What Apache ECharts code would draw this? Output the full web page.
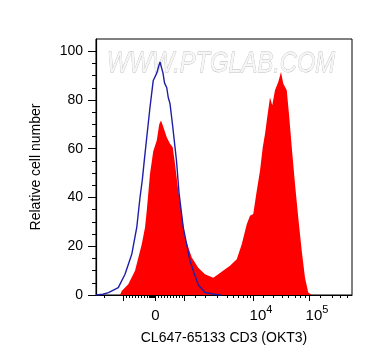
<!DOCTYPE html>
<html><head><meta charset="utf-8">
<script src="https://cdn.jsdelivr.net/npm/echarts@6/dist/echarts.min.js"></script>
<style>html,body{margin:0;padding:0;background:#fff}#c{width:372px;height:364px}</style>
</head><body><div id="c"></div>
<script>
// x values are display channels of the biexponential axis (0..1024)
const redX = [0, 96, 103, 129, 156, 183, 196, 203, 216, 229, 243, 253, 260, 269, 283, 296, 307, 316, 329, 343, 356, 383, 409, 436, 469, 489, 508, 536, 563, 583, 603, 616, 629, 643, 656, 667, 676, 685, 696, 705, 716, 729, 740, 749, 763, 773, 783, 796, 809, 823, 836, 849, 863, 1024];
const redY = [0, 0, 1.6, 4.4, 9.9, 20.8, 27.7, 34.6, 49.7, 59, 63.4, 70, 71.6, 69, 64.7, 62, 60.6, 53.8, 42.8, 33.2, 23.6, 15.4, 11.2, 8.5, 7.1, 8.5, 9.9, 12, 14.7, 20.8, 29, 32.5, 33.2, 42.8, 51, 60.6, 66, 73, 81, 77.8, 84, 87.4, 91.5, 86.7, 84, 73, 60.6, 45.5, 31.8, 18, 7.1, 1, 0, 0];
const blueX = [0, 28, 50, 89, 116, 143, 163, 176, 185, 193, 203, 216, 229, 243, 256, 263, 268, 274, 283, 289, 296, 307, 322, 332, 349, 376, 392, 410, 436, 480, 500];
const blueY = [0, 0.3, 1, 3, 8.5, 16.7, 27.7, 40, 47, 55, 64.7, 77, 88, 91, 95.6, 96, 91, 87, 85, 81, 78.5, 69, 55, 42, 27.7, 14, 9, 4, 1, 0.2, 0];

const xMajorTicks = [108, 238, 352, 628, 852];
const xMinorTicks = [32, 120, 132, 144, 156, 168, 180, 192, 204, 212, 216, 220, 224, 228, 232, 248, 260, 272, 284, 296, 308, 320, 332, 344, 396, 436, 484, 524, 548, 568, 588, 604, 616, 668, 708, 744, 768, 796, 816, 836, 896, 944, 976, 1004];
const xLabelValues = [238, 628, 852];
const xLabelBase = ['0', '10', '10'];
const xLabelExp = ['', '4', '5'];

const yLabelValues = [0, 20, 40, 60, 80, 100];
const yMinorTicks = [5, 10, 15, 25, 30, 35, 45, 50, 55, 65, 70, 75, 85, 90, 95];

const xTitle = 'CL647-65133 CD3 (OKT3)';
const yTitle = 'Relative cell number';
const watermark = 'WWW.PTGLAB.COM';

const FONT = '"Liberation Sans", Arial, sans-serif';
const chart = echarts.init(document.getElementById('c'), null, {renderer: 'canvas'});
const gridBox = {left: 96, right: 20, top: 39, bottom: 69};

function pairs(xs, ys) { return xs.map((x, i) => [x, ys[i]]); }

chart.setOption({
  animation: false,
  backgroundColor: '#fff',
  grid: [
    Object.assign({show: true, borderColor: '#000', borderWidth: 1, backgroundColor: 'transparent'}, gridBox),
    Object.assign({show: false}, gridBox)
  ],
  xAxis: [
    {
      gridIndex: 0, type: 'value', min: 0, max: 1024, position: 'bottom',
      name: xTitle, nameLocation: 'middle', nameGap: 36,
      nameTextStyle: {fontFamily: FONT, fontSize: 14, color: '#000'},
      axisLine: {show: true, onZero: false, lineStyle: {color: '#000', width: 1}},
      axisTick: {show: true, length: 6, customValues: xMajorTicks, lineStyle: {color: '#000', width: 1}},
      axisLabel: {
        show: true, margin: 9, customValues: xLabelValues,
        formatter: function (v) {
          const i = xLabelValues.indexOf(v);
          if (i < 0) return '';
          return xLabelExp[i] ? '{g|}{b|' + xLabelBase[i] + '}{s|' + xLabelExp[i] + '}' : '{b|' + xLabelBase[i] + '}';
        },
        rich: {
          g: {width: 16, lineHeight: 24},
          b: {fontFamily: FONT, fontSize: 15, color: '#000', lineHeight: 24},
          s: {fontFamily: FONT, fontSize: 11, color: '#000', lineHeight: 10, verticalAlign: 'top'}
        }
      },
      splitLine: {show: false}
    },
    {
      gridIndex: 1, type: 'value', min: 0, max: 1024, position: 'bottom',
      axisLine: {show: false},
      axisTick: {show: true, length: 3, customValues: xMinorTicks, lineStyle: {color: '#000', width: 1}},
      axisLabel: {show: false},
      splitLine: {show: false}
    }
  ],
  yAxis: [
    {
      gridIndex: 0, type: 'value', min: 0, max: 105, position: 'left',
      name: yTitle, nameLocation: 'middle', nameGap: 53, nameRotate: 90,
      nameTextStyle: {fontFamily: FONT, fontSize: 14, color: '#000'},
      axisLine: {show: true, lineStyle: {color: '#000', width: 1.2}},
      axisTick: {show: true, length: 8, customValues: yLabelValues, lineStyle: {color: '#000', width: 1}},
      axisLabel: {show: true, margin: 13, customValues: yLabelValues, fontFamily: FONT, fontSize: 14, color: '#000'},
      splitLine: {show: false}
    },
    {
      gridIndex: 1, type: 'value', min: 0, max: 105, position: 'left',
      axisLine: {show: false},
      axisTick: {show: true, length: 4, customValues: yMinorTicks, lineStyle: {color: '#000', width: 1}},
      axisLabel: {show: false},
      splitLine: {show: false}
    }
  ],
  graphic: [{
    type: 'text', x: 221, y: 64, z: 1, silent: true, scaleX: 0.79,
    style: {
      text: watermark, font: 'italic 30px ' + FONT,
      textAlign: 'center', textVerticalAlign: 'middle',
      fill: '#f6f6f6', stroke: '#bcbcbc', lineWidth: 0.8
    }
  }],
  series: [
    {
      type: 'line', xAxisIndex: 0, yAxisIndex: 0, data: pairs(redX, redY),
      showSymbol: false, smooth: false, z: 3,
      lineStyle: {width: 0, color: '#ff0000'},
      areaStyle: {color: '#ff0000', opacity: 1},
      itemStyle: {color: '#ff0000'}
    },
    {
      type: 'line', xAxisIndex: 0, yAxisIndex: 0, data: pairs(blueX, blueY),
      showSymbol: false, smooth: false, z: 4,
      lineStyle: {width: 1.4, color: '#1e1ea8'},
      itemStyle: {color: '#1e1ea8'}
    }
  ]
});
</script>
</body></html>
